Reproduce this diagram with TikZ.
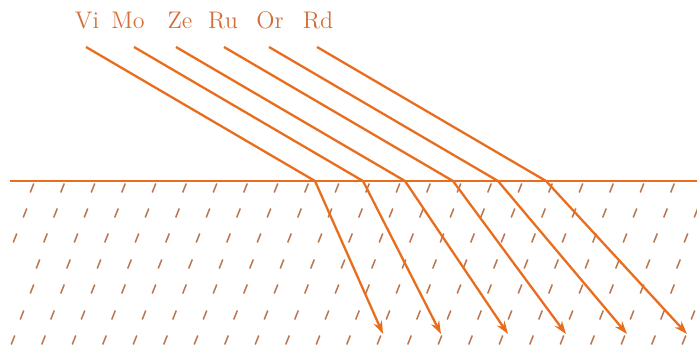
\documentclass[tikz,border=0pt]{standalone}
\usepackage{tikz}
\usetikzlibrary{arrows.meta,positioning}
\definecolor{rayorange}{RGB}{232,110,30}
\definecolor{labelorange}{RGB}{212,110,56}
\definecolor{hatchbrown}{RGB}{186,118,78}

\begin{document}
\begin{tikzpicture}[
    x=0.5pt, y=-0.5pt,
    lbl/.style={text=labelorange, anchor=base, inner sep=0pt, font=\large},
    ray/.style={draw=rayorange, line width=1.15pt, line join=round, -{Stealth[length=6.5pt,width=4.5pt]}},
    surface/.style={draw=rayorange, line width=1.1pt},
    hatch/.style={draw=hatchbrown, line width=0.75pt}
]
\useasboundingbox (0,0) rectangle (697,347);

% surface of the medium
\coordinate (left) at (10,181);
\coordinate (right) at (697,181);
\draw[surface] (left) -- (right);

% hatching of the medium
\begin{scope}
\clip (10,183) rectangle (697,347);
\foreach \yy/\xs in {188/32, 213/25, 238/15, 264/38, 289/32, 315/22, 340/13}
  \foreach \n in {0,...,22}
    \draw[hatch] (\xs+30.5*\n-1.8, \yy+4.5) -- ++(3.6,-9);
\end{scope}

% colour labels and rays
\foreach \name/\lx/\sx/\hx/\ex in {Vi/87/86/315/383, Mo/128/134/363/441,
    Ze/180/176/405/508, Ru/223/224/453/566, Or/270/269/498/627, Rd/318/317/546/687} {
  \node[lbl] (lbl-\name) at (\lx,29) {\name};
  \coordinate (start-\name) at (\sx,47);
  \coordinate (hit-\name) at (\hx,181);
  \coordinate (end-\name) at (\ex,334);
  \draw[ray] (start-\name) -- (hit-\name) -- (end-\name);
}
\end{tikzpicture}
\end{document}
